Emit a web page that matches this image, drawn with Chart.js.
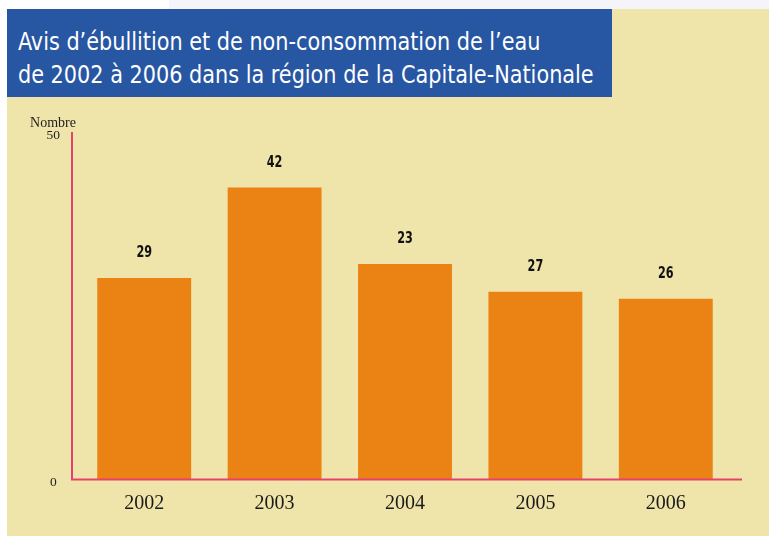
<!DOCTYPE html>
<html>
<head>
<meta charset="utf-8">
<script src="https://cdn.jsdelivr.net/npm/chart.js@4/dist/chart.umd.min.js"></script>
<style>
  html, body { margin: 0; padding: 0; background: #ffffff; }
  #wrap { position: relative; width: 769px; height: 536px; overflow: hidden; }
  #topstrip { position: absolute; left: 169px; top: 0; width: 600px; height: 9px; background: #f5f4fa; }
  #panel { position: absolute; left: 7px; top: 9px; width: 762px; height: 527px; background: #efe4aa; }
  #title { position: absolute; left: 7px; top: 9px; width: 605px; height: 88px; background: #2756a3; }
  #titletext { position: absolute; left: 11px; top: 16px; color: #ffffff;
           font-family: "Liberation Sans Narrow", "DejaVu Sans Condensed", sans-serif;
           font-size: 25px; line-height: 33px; white-space: nowrap;
           transform: scaleX(0.925); transform-origin: 0 0; }
  canvas { position: absolute; left: 0; top: 0; }
</style>
</head>
<body>
<div id="wrap">
  <div id="topstrip"></div>
  <div id="panel"></div>
  <canvas id="c" width="769" height="536"></canvas>
  <div id="title"><div id="titletext">Avis d’ébullition et de non-consommation de l’eau<br>de 2002 à 2006 dans la région de la Capitale-Nationale</div></div>
</div>
<script>
const categories = ['2002', '2003', '2004', '2005', '2006'];
const values = [29, 42, 31, 27, 26];            // bar heights as drawn
const valueLabels = ['29', '42', '23', '27', '26']; // numbers printed above bars
const yTicks = [0, 50];
const yAxisTitle = 'Nombre';

const PINK = '#e8416f';
const ORANGE = '#ea8313';

const axesPlugin = {
  id: 'axesLines',
  afterDatasetsDraw(chart) {
    const { ctx, chartArea, scales } = chart;
    const y0 = scales.y.getPixelForValue(0);
    const yTop = scales.y.getPixelForValue(50);
    const xAxisX = chartArea.left - 7;
    ctx.save();
    ctx.strokeStyle = PINK;
    ctx.lineWidth = 2;
    ctx.beginPath();
    ctx.moveTo(xAxisX, yTop);
    ctx.lineTo(xAxisX, y0 + 1);
    ctx.moveTo(xAxisX - 1, y0);
    ctx.lineTo(chartArea.right + 11, y0);
    ctx.stroke();
    // axis title
    ctx.fillStyle = '#222222';
    ctx.font = '14px "Liberation Serif", serif';
    ctx.textAlign = 'center';
    ctx.textBaseline = 'middle';
    ctx.fillText(yAxisTitle, 53, yTop - 9);
    // value labels
    const meta = chart.getDatasetMeta(0);
    ctx.fillStyle = '#111111';
    ctx.font = 'bold 16px "Liberation Sans Narrow", "DejaVu Sans Condensed", sans-serif';
    meta.data.forEach((bar, i) => {
      ctx.save();
      ctx.translate(bar.x, bar.y - 25);
      ctx.scale(0.78, 1);
      ctx.fillText(valueLabels[i], 0, 0);
      ctx.restore();
    });
    ctx.restore();
  }
};

new Chart(document.getElementById('c'), {
  type: 'bar',
  data: {
    labels: categories,
    datasets: [{
      data: values,
      backgroundColor: ORANGE,
      borderWidth: 0,
      barPercentage: 0.72,
      categoryPercentage: 1.0
    }]
  },
  options: {
    responsive: false,
    devicePixelRatio: 1,
    animation: false,
    layout: { padding: { top: 132, right: 38, bottom: 0, left: 0 } },
    plugins: { legend: { display: false }, tooltip: { enabled: false }, title: { display: false } },
    scales: {
      x: {
        grid: { display: false, drawTicks: false },
        border: { display: false },
        ticks: { color: '#1a1a1a', font: { family: '"Liberation Serif", serif', size: 20 }, padding: 12 },
        afterFit(scale) { scale.height = 56.5; }
      },
      y: {
        min: 0, max: 50,
        afterBuildTicks(scale) { scale.ticks = yTicks.map(v => ({ value: v })); },
        grid: { display: false, drawTicks: false },
        border: { display: false },
        ticks: { color: '#222222', font: { family: '"Liberation Serif", serif', size: 13.5 },
                 crossAlign: 'center', padding: 19, labelOffset: 3 },
        afterFit(scale) { scale.width = 79; }
      }
    }
  },
  plugins: [axesPlugin]
});
</script>
</body>
</html>
